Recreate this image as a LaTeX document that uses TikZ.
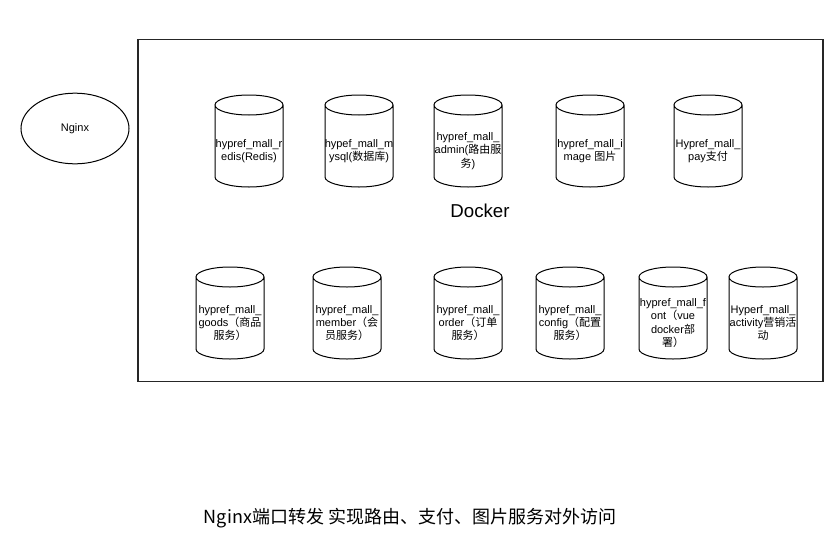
\documentclass[tikz,border=0pt]{standalone}
\usepackage{fontspec}
\usetikzlibrary{shapes.geometric}
\setmainfont{Liberation Sans}
\newfontfamily\cjk{Noto Sans CJK SC}
\newcommand\zhs[1]{{\cjk #1}}
\tikzset{
  cyltext/.style={inner sep=0pt, align=center, font=\fontsize{8.25pt}{9.9pt}\selectfont},
  cylline/.style={draw=black, line width=0.75pt},
}
\newcommand\cylnode[4]{%
  \node[cyltext] (#1) at (#2,#3) {#4};
  \draw[cylline] ([shift={(-25.5pt,34.5pt)}]#1.center) -- ([shift={(-25.5pt,-19.5pt)}]#1.center)
     arc[start angle=180,end angle=360,x radius=25.5pt,y radius=7.5pt]
     -- ([shift={(25.5pt,34.5pt)}]#1.center)
     arc[start angle=0,end angle=360,x radius=25.5pt,y radius=7.5pt];
}
\begin{document}
\begin{tikzpicture}[x=0.75pt,y=-0.75pt]
\useasboundingbox (0,0) rectangle (828,557);
\node[draw=black!85, line width=1pt, minimum width=513.75pt, minimum height=256.5pt, inner sep=0pt] (docker) at (480.5,210.5) {};
\node[font=\fontsize{14pt}{16pt}\selectfont] (dockerlbl) at (480,211) {Docker};
\node[draw, line width=0.75pt, ellipse, minimum width=81pt, minimum height=53pt, inner sep=0pt, font=\fontsize{8.25pt}{9.9pt}\selectfont] (nginx) at (75,128.5) {Nginx};
% top row
\cylnode{redis}{249}{151}{hypref\_mall\_r\\edis(Redis)}
\cylnode{mysql}{359}{151}{hypef\_mall\_m\\ysql(\zhs{数据库})}
\cylnode{admin}{468}{151}{hypref\_mall\_\\admin(\zhs{路由服}\\\zhs{务})}
\cylnode{image}{590}{151}{hypref\_mall\_i\\mage \zhs{图片}}
\cylnode{pay}{708}{151}{Hypref\_mall\_\\pay\zhs{支付}}
% bottom row
\cylnode{goods}{230}{323}{hypref\_mall\_\\goods\zhs{（商品}\\\zhs{服务）}}
\cylnode{member}{347}{323}{hypref\_mall\_\\member\zhs{（会}\\\zhs{员服务）}}
\cylnode{order}{468}{323}{hypref\_mall\_\\order\zhs{（订单}\\\zhs{服务）}}
\cylnode{config}{570}{323}{hypref\_mall\_\\config\zhs{（配置}\\\zhs{服务）}}
\cylnode{font}{673}{323}{hypref\_mall\_f\\ont\zhs{（}vue\\docker\zhs{部}\\\zhs{署）}}
\cylnode{activity}{763}{323}{Hyperf\_mall\_\\activity\zhs{营销活}\\\zhs{动}}
\node[font=\cjk\fontsize{13.5pt}{16pt}\selectfont] (caption) at (410,518) {Nginx端口转发 实现路由、支付、图片服务对外访问};
\end{tikzpicture}
\end{document}
